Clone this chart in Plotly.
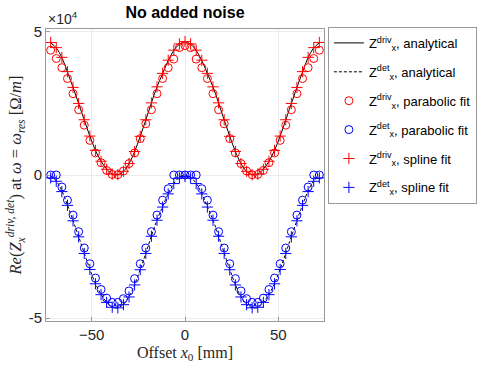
import plotly.graph_objects as go

# offsets in mm
offset = [-72, -69, -66, -63, -60, -57, -54, -51, -48, -45, -42, -39, -36,
          -33, -30, -27, -24, -21, -18, -15, -12, -9, -6, -3, 0,
          3, 6, 9, 12, 15, 18, 21, 24, 27, 30, 33, 36, 39, 42, 45, 48,
          51, 54, 57, 60, 63, 66, 69, 72]

# values in units of 1e4 Ohm/m
driv_analytical = [4.62, 4.44, 4.10, 3.60, 3.06, 2.50, 1.92, 1.36, 0.86, 0.48, 0.21, 0.03, 0.01,
                   0.13, 0.40, 0.82, 1.35, 1.92, 2.52, 3.08, 3.54, 4.00, 4.35, 4.57, 4.65,
                   4.57, 4.35, 4.00, 3.54, 3.08, 2.52, 1.92, 1.35, 0.82, 0.40, 0.13, 0.01,
                   0.03, 0.21, 0.48, 0.86, 1.36, 1.92, 2.50, 3.06, 3.60, 4.10, 4.44, 4.62]
det_analytical = [-0.03, -0.21, -0.55, -1.05, -1.59, -2.15, -2.73, -3.29, -3.79, -4.17, -4.44, -4.62, -4.64,
                  -4.52, -4.25, -3.83, -3.30, -2.73, -2.13, -1.57, -1.11, -0.65, -0.30, -0.08, 0.00,
                  -0.08, -0.30, -0.65, -1.11, -1.57, -2.13, -2.73, -3.30, -3.83, -4.25, -4.52, -4.64,
                  -4.62, -4.44, -4.17, -3.79, -3.29, -2.73, -2.15, -1.59, -1.05, -0.55, -0.21, -0.03]
driv_parabolic = [4.36, 4.07, 3.75, 3.37, 2.84, 2.28, 1.74, 1.21, 0.77, 0.43, 0.16, 0.02, 0.01,
                  0.14, 0.40, 0.77, 1.27, 1.79, 2.28, 2.84, 3.37, 3.75, 4.05, 4.45, 4.52,
                  4.45, 4.05, 3.75, 3.37, 2.84, 2.28, 1.79, 1.27, 0.77, 0.40, 0.14, 0.01,
                  0.02, 0.16, 0.43, 0.77, 1.21, 1.74, 2.28, 2.84, 3.37, 3.75, 4.07, 4.36]
det_parabolic = [0.00, 0.00, -0.42, -0.88, -1.40, -1.98, -2.55, -3.10, -3.60, -4.00, -4.30, -4.45, -4.45,
                 -4.32, -4.05, -3.62, -3.10, -2.55, -1.98, -1.40, -0.88, -0.48, 0.00, 0.00, 0.00,
                 0.00, 0.00, -0.48, -0.88, -1.40, -1.98, -2.55, -3.10, -3.62, -4.05, -4.32, -4.45,
                 -4.45, -4.30, -4.00, -3.60, -3.10, -2.55, -1.98, -1.40, -0.88, -0.42, 0.00, 0.00]
driv_spline = [4.63, 4.45, 4.11, 3.61, 3.06, 2.50, 1.93, 1.36, 0.86, 0.48, 0.20, 0.03, 0.01,
               0.13, 0.40, 0.82, 1.35, 1.93, 2.52, 3.08, 3.55, 4.01, 4.36, 4.58, 4.66,
               4.58, 4.36, 4.01, 3.55, 3.08, 2.52, 1.93, 1.35, 0.82, 0.40, 0.13, 0.01,
               0.03, 0.20, 0.48, 0.86, 1.36, 1.93, 2.50, 3.06, 3.61, 4.11, 4.45, 4.63]
det_spline = [-0.10, -0.22, -0.58, -1.06, -1.60, -2.16, -2.74, -3.30, -3.80, -4.18, -4.45, -4.62, -4.64,
              -4.53, -4.26, -3.84, -3.31, -2.74, -2.14, -1.58, -1.12, -0.66, -0.30, -0.10, -0.05,
              -0.10, -0.30, -0.66, -1.12, -1.58, -2.14, -2.74, -3.31, -3.84, -4.26, -4.53, -4.64,
              -4.62, -4.45, -4.18, -3.80, -3.30, -2.74, -2.16, -1.60, -1.06, -0.58, -0.22, -0.10]

RED = '#ff0000'
BLUE = '#0000ff'
SANS = 'Liberation Sans, Arial, sans-serif'
SERIF = 'Liberation Serif, Times New Roman, serif'

fig = go.Figure()

fig.add_trace(go.Scatter(
    x=offset, y=driv_analytical, mode='lines', line_shape='spline',
    line=dict(color='black', width=1), legendgroup='a',
    name='Z<sup>driv</sup><sub>x</sub>, analytical'))
fig.add_trace(go.Scatter(
    x=offset, y=det_analytical, mode='lines', line_shape='spline',
    line=dict(color='black', width=1, dash='3px,2px'), legendgroup='b',
    name='Z<sup>det</sup><sub>x</sub>, analytical'))
fig.add_trace(go.Scatter(
    x=offset, y=driv_parabolic, mode='markers', legendgroup='c',
    marker=dict(symbol='circle-open', size=8, color=RED, line=dict(width=1)),
    name='Z<sup>driv</sup><sub>x</sub>, parabolic fit'))
fig.add_trace(go.Scatter(
    x=offset, y=det_parabolic, mode='markers', legendgroup='d',
    marker=dict(symbol='circle-open', size=8, color=BLUE, line=dict(width=1)),
    name='Z<sup>det</sup><sub>x</sub>, parabolic fit'))
fig.add_trace(go.Scatter(
    x=offset, y=driv_spline, mode='markers', legendgroup='e',
    marker=dict(symbol='cross-thin-open', size=8, color=RED, line=dict(width=1, color=RED)),
    name='Z<sup>driv</sup><sub>x</sub>, spline fit'))
fig.add_trace(go.Scatter(
    x=offset, y=det_spline, mode='markers', legendgroup='f',
    marker=dict(symbol='cross-thin-open', size=8, color=BLUE, line=dict(width=1, color=BLUE)),
    name='Z<sup>det</sup><sub>x</sub>, spline fit'))

axis_common = dict(
    showline=True, mirror=True, linecolor='#9a9a9a', linewidth=1,
    showgrid=True, gridcolor='#ececec', gridwidth=1,
    ticks='inside', ticklen=4, tickcolor='#9a9a9a',
    tickfont=dict(family=SANS, size=15, color='#262626'),
    zeroline=False, automargin=False,
)

fig.update_layout(
    width=491, height=368,
    paper_bgcolor='white', plot_bgcolor='white',
    margin=dict(l=46, r=167, t=29, b=47, autoexpand=False),
    title=dict(text='<b>No added noise</b>', x=(46 + 278 / 2) / 491, xanchor='center',
               y=0.967, yanchor='middle', automargin=False,
               font=dict(family=SANS, size=16, color='black')),
    xaxis=dict(range=[-74.5, 74.5], tickvals=[-50, 0, 50],
               title=dict(text='Offset <i>x</i><sub>0</sub> [mm]', standoff=4,
                          font=dict(family=SERIF, size=16, color='#262626')),
               **axis_common),
    yaxis=dict(range=[-5.1, 5.1], tickvals=[-5, 0, 5], ticktext=['-5', '0', '5'],
               title=dict(text='<i>Re</i>(<i>Z</i><sub><i>x</i></sub><sup><i>driv, det</i></sup>) at '
                               '<i>ω</i> = <i>ω</i><sub><i>res</i></sub> [Ω/<i>m</i>]',
                          standoff=2,
                          font=dict(family=SERIF, size=16.5, color='#262626')),
               **axis_common),
    legend=dict(x=1.014, y=1.007, xanchor='left', yanchor='top',
                bordercolor='#9a9a9a', borderwidth=1, bgcolor='white',
                font=dict(family=SANS, size=13, color='black'),
                itemwidth=30, tracegroupgap=9),
    showlegend=True,
)

fig.add_annotation(text='×10<sup>4</sup>', xref='paper', yref='paper',
                   x=0.0, y=1.0, xanchor='left', yanchor='bottom', showarrow=False,
                   font=dict(family=SANS, size=14, color='#262626'), yshift=0)

# the page body has a default 8px margin; drop it so the figure sits at the window origin
fig.write_html("out.html", config={'displayModeBar': False},
               post_script="document.body.style.margin='0';")
